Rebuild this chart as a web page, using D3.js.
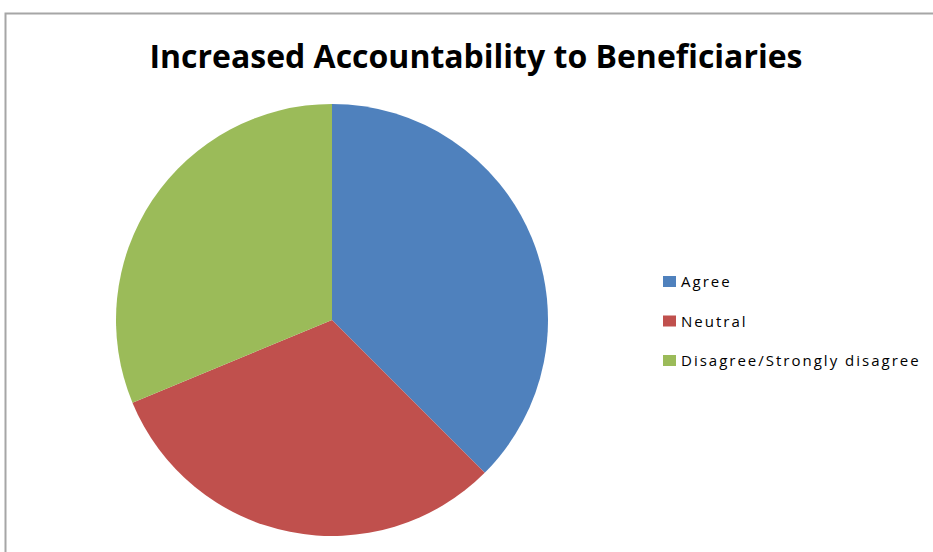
<!DOCTYPE html>
<html>
<head>
<meta charset="utf-8">
<script src="https://cdn.jsdelivr.net/npm/d3@7"></script>
<style>
  body { margin: 0; background: #fff; }
</style>
</head>
<body>
<div id="content"></div>
<script>
// Data-set.
var categories = ['Agree', 'Neutral', 'Disagree/Strongly disagree'];
var values = [6, 5, 5];
var colors = ['#4f81bd', '#c0504d', '#9bbb59'];
var title = 'Increased Accountability to Beneficiaries';

var width = 933, height = 552;
var svg = d3.select('#content')
              .append('svg')
              .attr('width', width)
              .attr('height', height);

// Chart frame (only top and left edges are visible in the crop).
svg.append('rect')
    .attr('x', 5.5).attr('y', 13.5)
    .attr('width', 960).attr('height', 600)
    .attr('fill', '#fff')
    .attr('stroke', '#a6a6a6')
    .attr('stroke-width', 2);

svg.append('text')
    .attr('x', 476).attr('y', 68)
    .attr('text-anchor', 'middle')
    .attr('font-family', 'Open Sans, sans-serif')
    .attr('font-weight', 'bold')
    .attr('font-size', 33)
    .attr('textLength', 653)
    .attr('lengthAdjust', 'spacingAndGlyphs')
    .attr('fill', '#000')
    .text(title);

// Pie.
var radius = 216;
var g = svg.append('g').attr('transform', 'translate(' + [332, 320] + ')');
var pie = d3.pie().sort(null)(values);
var arc = d3.arc().innerRadius(0).outerRadius(radius);

g.selectAll('path')
    .data(pie)
    .enter()
    .append('path')
    .attr('d', arc)
    .attr('fill', function(d, i) { return colors[i]; });

// Legend.
var legend = svg.append('g').attr('transform', 'translate(663,276)');
var items = legend.selectAll('g')
    .data(categories)
    .enter()
    .append('g')
    .attr('transform', function(d, i) { return 'translate(0,' + i * 39.5 + ')'; });

items.append('rect')
    .attr('width', 13).attr('height', 11)
    .attr('fill', function(d, i) { return colors[i]; });

items.append('text')
    .attr('x', 18).attr('y', 11)
    .attr('font-family', 'Open Sans, sans-serif')
    .attr('font-size', 15)
    .attr('letter-spacing', 2)
    .attr('fill', '#000')
    .text(function(d) { return d; });
</script>
</body>
</html>
